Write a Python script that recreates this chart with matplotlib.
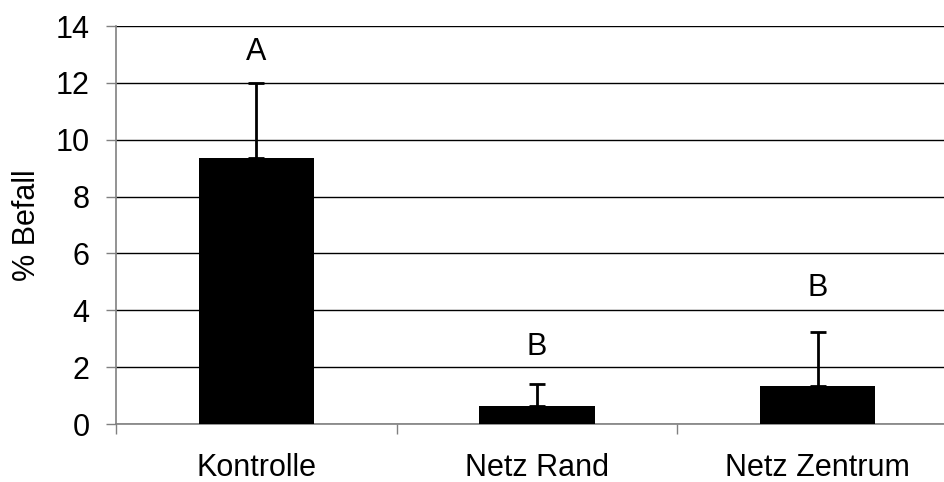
import matplotlib.pyplot as plt
import numpy as np

# Daten
kategorien = ['Kontrolle', 'Netz Rand', 'Netz Zentrum']
befall = [9.35, 0.63, 1.35]
fehler_oben = [2.65, 0.78, 1.88]
buchstaben = ['A', 'B', 'B']
buchstaben_y = [13.1, 2.7, 4.8]

plt.rcParams['font.family'] = ['Liberation Sans', 'DejaVu Sans']

fig = plt.figure(figsize=(9.45, 4.82), dpi=100)
ax = fig.add_axes([116 / 945, 58 / 482, 842 / 945, 398 / 482])

x = np.arange(len(kategorien))
ax.bar(x, befall, width=0.41, color='black', zorder=3)
ax.errorbar(x, befall, yerr=[np.zeros(len(x)), fehler_oben], fmt='none',
            ecolor='black', elinewidth=2, capsize=5.5, capthick=2, zorder=2)

for xi, b, yb in zip(x, buchstaben, buchstaben_y):
    ax.text(xi, yb, b, ha='center', va='center', fontsize=22)

ax.set_xlim(-0.5, len(kategorien) - 0.5)
ax.set_ylim(0, 14)
ax.set_yticks(np.arange(0, 15, 2))
ax.yaxis.grid(True, color='black', linewidth=1)
ax.set_axisbelow(True)

ax.set_xticks(x)
ax.set_xticklabels(kategorien, fontsize=22)
ax.set_xticks(np.arange(-0.5, len(kategorien)), minor=True)
ax.tick_params(axis='x', which='major', length=0, pad=21)
ax.tick_params(axis='x', which='minor', length=7, width=1, color='#808080')
ax.tick_params(axis='y', labelsize=22, length=7, width=1, color='#808080', pad=12)

for s in ['top', 'right']:
    ax.spines[s].set_visible(False)
for s in ['left', 'bottom']:
    ax.spines[s].set_color('#808080')
    ax.spines[s].set_linewidth(1.2)

ax.set_ylabel('% Befall', fontsize=22, labelpad=10)

fig.savefig('out.png', dpi=100)
